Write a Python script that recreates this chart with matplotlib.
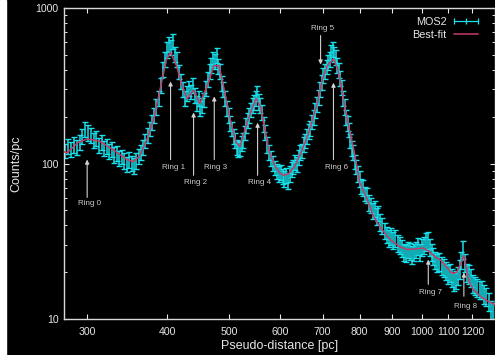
import matplotlib
matplotlib.use("Agg")
import matplotlib.pyplot as plt
from matplotlib.lines import Line2D
from matplotlib.patches import Rectangle
from matplotlib.ticker import NullLocator, FixedLocator, LogLocator, NullFormatter

plt.rcParams['font.family'] = ['Liberation Sans', 'DejaVu Sans']

# measured counts (pseudo-distance, counts/pc, error)
dist = [277, 280, 283, 286, 289, 292, 295, 298, 301, 304, 307, 310, 313, 316, 319, 322, 325, 328, 331, 334,
        337, 340, 343, 346, 349,
        352, 355, 358, 361, 364, 367, 370, 373, 376, 379, 382, 385, 388,
        391, 394, 397, 400, 403, 406, 409, 412, 415, 418, 421, 424, 427, 430, 433, 436, 439, 442, 445, 448,
        451, 454, 457, 460, 463, 466, 469, 472, 475, 478, 481, 484, 487, 490, 493, 496, 499, 502, 505, 508,
        511, 514, 517,
        520, 523, 526, 529, 532, 535, 538, 541, 544, 547, 550, 553, 556, 559, 562, 566, 570, 574, 578, 582,
        586, 590, 594, 598, 602, 606,
        610, 614, 618, 622, 626, 630, 634, 638, 642, 646, 650, 654, 658, 662, 666, 670, 674, 678, 682, 686,
        690, 694, 698, 702, 706, 710, 714, 718, 722, 726, 730,
        734, 738, 742, 746, 750, 754, 758, 762, 766, 770, 774, 778, 782, 786, 790, 795, 800, 805, 810, 815,
        820, 826, 832, 838, 844, 850, 856, 862, 868, 875, 882, 889, 896, 903, 910, 917, 924, 931, 938, 945,
        952, 959, 966, 973, 980, 987, 994,
        1001, 1008, 1015, 1022, 1029, 1036, 1043, 1050, 1058, 1066, 1074, 1082, 1090, 1098, 1106, 1114,
        1122, 1130, 1138, 1146, 1154, 1162, 1170, 1178, 1186, 1194, 1202, 1212, 1222, 1232, 1242, 1252,
        1262, 1272, 1282, 1292]
counts = [121, 129, 124, 132, 127, 138, 150, 166, 158, 152, 141, 146, 131, 137, 126, 129, 120, 124, 114, 117,
          108, 111, 104, 99, 106,
          101, 97, 104, 112, 119, 128, 140, 152, 168, 185, 205, 232, 265,
          318, 405, 470, 540, 585, 560, 610, 505, 470, 390, 338, 300, 262, 285, 305, 290, 318, 275, 245, 262,
          228, 236, 258, 305, 348, 395, 430, 470, 455, 500, 425, 392, 330, 300, 265, 228, 205, 182, 168, 150,
          142, 128, 124,
          126, 135, 141, 158, 176, 190, 204, 222, 236, 248, 262, 282, 250, 238, 214, 180, 160, 132, 118, 108,
          100, 94, 90, 86, 88, 83,
          80, 84, 78, 86, 92, 95, 102, 99, 110, 118, 121, 134, 140, 150, 162, 170, 186, 198, 220, 240,
          268, 300, 335, 370, 392, 420, 452, 470, 520, 545, 505,
          480, 430, 400, 352, 310, 262, 232, 200, 182, 165, 140, 125, 118, 103, 95, 86, 80, 72, 70, 64,
          63, 56, 54, 50, 51, 46, 48, 42, 40, 37, 35, 33, 34, 32, 33, 31, 30, 28.5, 27, 26.5,
          28, 27.5, 26, 27, 28, 29.5, 27,
          29, 30, 31.5, 32, 29, 27, 25.5, 24, 23, 23.5, 22, 21.5, 20.5, 19.5, 20, 18.5,
          17.5, 18, 19, 21, 24, 28, 23, 20, 19.5, 18.5, 17, 16.5, 16, 15.5, 15.5, 14.5,
          14, 13, 11.5, 11]
errs = [13, 14, 14, 15, 14, 15, 17, 19, 18, 17, 16, 16, 15, 15, 14, 14, 13, 14, 13, 13,
        12, 12, 12, 11, 12,
        11, 11, 12, 12, 13, 14, 15, 17, 18, 20, 23, 26, 29,
        35, 45, 52, 60, 65, 62, 68, 56, 52, 43, 37, 33, 29, 31, 34, 32, 35, 30, 27, 29,
        25, 26, 28, 34, 38, 43, 47, 52, 50, 55, 47, 43, 36, 33, 29, 25, 23, 20, 18, 17,
        16, 14, 14,
        14, 15, 16, 17, 19, 21, 22, 24, 26, 27, 29, 31, 28, 26, 24, 20, 18, 15, 13, 12,
        11, 10, 10, 10, 10, 9,
        9, 9, 9, 10, 10, 10, 11, 11, 12, 13, 13, 15, 15, 17, 18, 19, 20, 22, 24, 26,
        29, 33, 37, 41, 43, 46, 50, 52, 57, 60, 56,
        53, 47, 44, 39, 34, 29, 26, 22, 20, 18, 15, 14, 13, 11, 10, 10, 9, 8, 8, 7,
        7, 6.5, 6.3, 6, 6, 5.5, 5.6, 5, 4.8, 4.5, 4.3, 4.1, 4.2, 4, 4.1, 3.9, 3.8, 3.6, 3.4, 3.4,
        3.5, 3.5, 3.3, 3.4, 3.5, 3.7, 3.4,
        3.6, 3.8, 4, 4, 3.6, 3.4, 3.3, 3.1, 3, 3, 2.9, 2.8, 2.7, 2.6, 2.6, 2.5,
        2.3, 2.4, 2.5, 2.8, 3.1, 3.6, 3, 2.7, 2.6, 2.5, 2.3, 2.2, 2.2, 2.1, 2.1, 2,
        1.9, 1.8, 1.6, 1.6]

# best-fit model
fit_dist = [276, 279, 290, 300, 314, 329, 346, 354, 362, 372, 382, 390, 399, 405, 414, 422, 430, 440, 450,
            462, 473, 482, 490, 502, 513, 520, 534, 543, 551, 560, 569, 578, 590, 600, 608, 620, 635, 650,
            665, 686, 700, 713, 728, 740, 750, 760, 770, 783, 800, 820, 840, 865, 892, 920, 947, 975, 1006,
            1030, 1050, 1068, 1090, 1110, 1121, 1135, 1150, 1164, 1175, 1185, 1204, 1240, 1270, 1300]
fit_counts = [119, 117, 136, 144, 139, 123, 106, 103, 111, 143, 200, 299, 466, 520, 423, 314, 262, 296, 243,
              314, 423, 427, 314, 192, 136, 129, 185, 225, 262, 230, 165, 118, 96, 87, 84, 86, 98, 122,
              155, 240, 350, 430, 470, 400, 300, 220, 170, 123, 76, 60, 46, 38, 32.5, 29.5, 28, 28.2, 28.6,
              27, 25, 24.1, 22, 20, 19.6, 20, 22.5, 25.6, 21, 17.5, 15.5, 13.8, 13, 12.4]

ring_names = ['Ring 0', 'Ring 1', 'Ring 2', 'Ring 3', 'Ring 4', 'Ring 5', 'Ring 6', 'Ring 7', 'Ring 8']
ring_head = [(300, 106), (405, 337), (440, 213), (474, 270), (554, 183), (695, 433), (728, 331),
             (1024, 24.1), (1164, 19.9)]
ring_tail = [(300, 60.5), (405, 106), (440, 84), (474, 106), (554, 84), (695, 665), (728, 106),
             (1024, 16.7), (1164, 14.0)]
ring_text = [(302, 55), (409, 94), (443, 75), (477, 94), (558, 75), (699, 738), (735, 94),
             (1033, 14.7), (1172, 12.1)]

xticks = [300, 400, 500, 600, 700, 800, 900, 1000, 1100, 1200]

cyan = '#18e0ec'
fitc = '#c23c68'
fg = '#e6e6e6'

fig = plt.figure(figsize=(4.95, 3.55), dpi=100, facecolor='black')
fig.patches.append(Rectangle((0, 0), 6 / 495, 1, transform=fig.transFigure, color='white', zorder=-1))
ax = fig.add_axes([64 / 495, 36 / 355, 431 / 495, 311 / 355])
ax.set_facecolor('black')

ax.errorbar(dist, counts, yerr=errs, fmt='none', ecolor=cyan, elinewidth=1.1, capsize=1.9,
            capthick=1.0, zorder=2)
ax.plot(fit_dist, fit_counts, color=fitc, lw=1.1, zorder=3)

ax.set_xscale('log')
ax.set_yscale('log')
ax.set_xlim(276, 1302)
ax.set_ylim(10, 1000)

ax.xaxis.set_major_locator(FixedLocator(xticks))
ax.set_xticklabels([str(t) for t in xticks])
ax.xaxis.set_minor_locator(NullLocator())
ax.yaxis.set_major_locator(FixedLocator([10, 100, 1000]))
ax.set_yticklabels(['10', '100', '1000'])
ax.yaxis.set_minor_locator(LogLocator(base=10, subs=range(2, 10)))
ax.yaxis.set_minor_formatter(NullFormatter())

ax.tick_params(which='both', direction='in', top=True, right=True, colors=fg, labelsize=7.6)
ax.tick_params(which='major', length=3.5, width=0.8)
ax.tick_params(which='minor', length=2, width=0.7)
ax.tick_params(axis='x', pad=6)
ax.tick_params(axis='y', pad=4)
for s in ax.spines.values():
    s.set_color('#d8d8d8')
    s.set_linewidth(1.0)

ax.set_xlabel('Pseudo-distance [pc]', color=fg, fontsize=9, labelpad=2)
ax.set_ylabel('Counts/pc', color=fg, fontsize=9, labelpad=9)

for name, head, tail, txt in zip(ring_names, ring_head, ring_tail, ring_text):
    ax.annotate('', xy=head, xytext=tail,
                arrowprops=dict(arrowstyle='-|>', color='#d0d0d0', lw=0.8, mutation_scale=6,
                                shrinkA=0, shrinkB=0))
    ax.text(txt[0], txt[1], name, color='#cccccc', fontsize=5.8, ha='center', va='center')

handles = [Line2D([0], [0], color=cyan, lw=0.9, marker='|', markersize=4, markeredgewidth=0.9),
           Line2D([0], [0], color=fitc, lw=1.1)]
leg = ax.legend(handles, ['MOS2', 'Best-fit'], loc='upper right', frameon=False, markerfirst=False,
                numpoints=3, fontsize=7.8, labelcolor=fg, handlelength=2.8, handletextpad=0.35,
                borderaxespad=0.3, labelspacing=0.25, bbox_to_anchor=(0.985, 0.995))

fig.savefig('out.png', dpi=100, facecolor=fig.get_facecolor())
